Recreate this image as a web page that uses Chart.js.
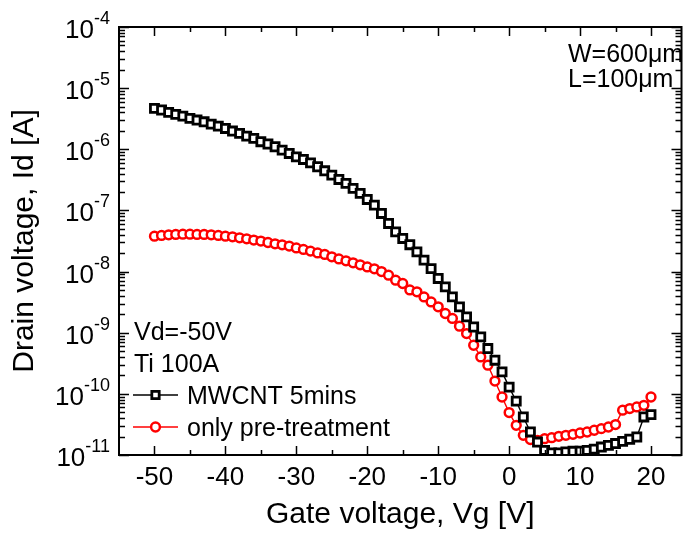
<!DOCTYPE html>
<html><head><meta charset="utf-8">
<script src="https://cdn.jsdelivr.net/npm/chart.js@4/dist/chart.umd.min.js"></script>
<style>html,body{margin:0;padding:0;background:#fff}#wrap{width:690px;height:547px}</style>
</head><body><div id="wrap"><canvas id="c" width="690" height="547"></canvas></div>
<script>
const gateVoltage = [-50,-49,-48,-47,-46,-45,-44,-43,-42,-41,-40,-39,-38,-37,-36,-35,-34,-33,-32,-31,
  -30,-29,-28,-27,-26,-25,-24,-23,-22,-21,-20,-19,-18,-17,-16,-15,-14,-13,-12,-11,
  -10,-9,-8,-7,-6,-5,-4,-3,-2,-1,0,1,2,3,4,5,6,7,8,9,10,11,12,13,14,15,16,17,18,19,20];
const idMWCNT = [4.67e-6,4.39e-6,4.01e-6,3.72e-6,3.49e-6,3.20e-6,3.01e-6,2.82e-6,2.58e-6,2.39e-6,
  2.19e-6,1.99e-6,1.82e-6,1.64e-6,1.51e-6,1.33e-6,1.22e-6,1.10e-6,9.70e-7,8.55e-7,
  7.53e-7,6.82e-7,6.01e-7,5.18e-7,4.45e-7,3.78e-7,3.21e-7,2.77e-7,2.29e-7,1.90e-7,
  1.51e-7,1.22e-7,8.91e-8,6.12e-8,4.47e-8,3.48e-8,2.75e-8,2.10e-8,1.54e-8,1.12e-8,
  7.71e-9,5.62e-9,3.85e-9,2.65e-9,1.82e-9,1.24e-9,8.53e-10,5.51e-10,3.55e-10,2.29e-10,
  1.29e-10,7.59e-11,4.19e-11,2.38e-11,1.63e-11,1.19e-11,1.08e-11,1.08e-11,1.12e-11,1.15e-11,
  1.16e-11,1.19e-11,1.25e-11,1.35e-11,1.44e-11,1.54e-11,1.67e-11,1.81e-11,1.97e-11,4.19e-11,
  4.58e-11];
const idPreTreatment = [3.79e-8,3.90e-8,3.99e-8,4.05e-8,4.09e-8,4.09e-8,4.05e-8,4.05e-8,3.99e-8,3.90e-8,
  3.79e-8,3.70e-8,3.56e-8,3.43e-8,3.27e-8,3.15e-8,2.99e-8,2.84e-8,2.74e-8,2.61e-8,
  2.44e-8,2.30e-8,2.16e-8,2.02e-8,1.91e-8,1.74e-8,1.61e-8,1.50e-8,1.39e-8,1.29e-8,
  1.19e-8,1.11e-8,1.00e-8,8.73e-9,7.24e-9,6.38e-9,5.01e-9,4.66e-9,3.85e-9,3.19e-9,
  2.65e-9,2.06e-9,1.71e-9,1.28e-9,9.68e-10,6.24e-10,4.02e-10,2.94e-10,1.62e-10,8.89e-11,
  4.94e-11,3.06e-11,2.10e-11,1.79e-11,1.74e-11,1.85e-11,1.92e-11,2.02e-11,2.10e-11,2.18e-11,
  2.29e-11,2.38e-11,2.54e-11,2.70e-11,2.87e-11,3.14e-11,5.40e-11,5.74e-11,6.11e-11,6.50e-11,
  8.89e-11];
const seriesLabels = ['MWCNT 5mins', 'only pre-treatment'];
const xTickValues = [-50, -40, -30, -20, -10, 0, 10, 20];
const xMinorTickValues = [-45, -35, -25, -15, -5, 5, 15];
const yTickExponents = [-4, -5, -6, -7, -8, -9, -10, -11];
const xAxisTitle = 'Gate voltage, Vg [V]';
const yAxisTitle = 'Drain voltage, Id [A]';
const noteTopRight = ['W=600\u03bcm', 'L=100\u03bcm'];
const noteLeft = ['Vd=-50V', 'Ti 100A'];

const FONT = "'Liberation Sans', Arial, Helvetica, sans-serif";
Chart.defaults.font.family = FONT;
Chart.defaults.color = '#000';

const decorPlugin = {
  id: 'decor',
  afterDatasetsDraw(chart) {
    const {ctx, chartArea: a, scales: {x, y}} = chart;
    ctx.save();
    ctx.strokeStyle = '#000';
    ctx.lineCap = 'butt';
    // ticks (inward on all four sides)
    ctx.lineWidth = 1.5;
    ctx.beginPath();
    xTickValues.forEach(v => {
      const px = Math.round(x.getPixelForValue(v)) + 0.5;
      ctx.moveTo(px, a.bottom); ctx.lineTo(px, a.bottom - 9);
      ctx.moveTo(px, a.top); ctx.lineTo(px, a.top + 9);
    });
    xMinorTickValues.forEach(v => {
      const px = Math.round(x.getPixelForValue(v)) + 0.5;
      ctx.moveTo(px, a.bottom); ctx.lineTo(px, a.bottom - 5);
      ctx.moveTo(px, a.top); ctx.lineTo(px, a.top + 5);
    });
    yTickExponents.forEach(e => {
      const py = Math.round(y.getPixelForValue(Math.pow(10, e))) + 0.5;
      ctx.moveTo(a.left, py); ctx.lineTo(a.left + 10, py);
      ctx.moveTo(a.right, py); ctx.lineTo(a.right - 10, py);
      if (e > -11) {
        for (let k = 2; k <= 9; k++) {
          const pm = Math.round(y.getPixelForValue(k * Math.pow(10, e - 1))) + 0.5;
          ctx.moveTo(a.left, pm); ctx.lineTo(a.left + 6, pm);
          ctx.moveTo(a.right, pm); ctx.lineTo(a.right - 6, pm);
        }
      }
    });
    ctx.stroke();
    // frame
    ctx.lineWidth = 2;
    ctx.strokeRect(a.left, a.top, a.right - a.left, a.bottom - a.top);

    // y tick labels 10^n
    ctx.fillStyle = '#000';
    ctx.textBaseline = 'alphabetic';
    ctx.textAlign = 'right';
    yTickExponents.forEach(e => {
      const py = y.getPixelForValue(Math.pow(10, e));
      const exp = String(e);
      ctx.font = '18px ' + FONT;
      const ew = ctx.measureText(exp).width;
      ctx.fillText(exp, 110, py - 3);
      ctx.font = '26px ' + FONT;
      ctx.fillText('10', 110 - ew, py + 11);
    });

    // notes
    ctx.textAlign = 'left';
    ctx.font = '25px ' + FONT;
    ctx.fillText(noteTopRight[0], 568, 62);
    ctx.fillText(noteTopRight[1], 568, 87);
    ctx.fillText(noteLeft[0], 134, 340);
    ctx.fillText(noteLeft[1], 134, 372);

    // legend
    const rows = [395, 427];
    chart.data.datasets.forEach((ds, i) => {
      const yy = rows[i];
      ctx.strokeStyle = ds.borderColor;
      ctx.lineWidth = ds.borderWidth;
      ctx.beginPath(); ctx.moveTo(133, yy); ctx.lineTo(178, yy); ctx.stroke();
      ctx.fillStyle = ds.pointBackgroundColor;
      ctx.strokeStyle = ds.pointBorderColor;
      ctx.lineWidth = ds.pointBorderWidth;
      Chart.helpers.drawPoint(ctx, {pointStyle: ds.pointStyle, radius: ds.legendRadius, borderWidth: ds.pointBorderWidth, rotation: 0}, 155.5, yy);
      ctx.fillStyle = '#000';
      ctx.font = '25px ' + FONT;
      ctx.fillText(ds.label, 187, yy + 8.5);
    });
    ctx.restore();
  }
};

new Chart(document.getElementById('c'), {
  type: 'line',
  data: {
    datasets: [
      {
        label: seriesLabels[0],
        data: gateVoltage.map((v, i) => ({x: v, y: idMWCNT[i]})),
        borderColor: '#000', borderWidth: 1.4,
        pointStyle: 'rect', pointRadius: 5.7, legendRadius: 5.2,
        pointBorderWidth: 2.8, pointBorderColor: '#000', pointBackgroundColor: '#fff',
        clip: 0, tension: 0
      },
      {
        label: seriesLabels[1],
        data: gateVoltage.map((v, i) => ({x: v, y: idPreTreatment[i]})),
        borderColor: '#f00', borderWidth: 1.4,
        pointStyle: 'circle', pointRadius: 4.4, legendRadius: 4.4,
        pointBorderWidth: 2.5, pointBorderColor: '#f00', pointBackgroundColor: '#fff',
        clip: 0, tension: 0
      }
    ]
  },
  options: {
    responsive: false, animation: false, devicePixelRatio: 1,
    layout: {padding: {top: 27, right: 2, left: 0, bottom: 0}},
    plugins: {legend: {display: false}, tooltip: {enabled: false}},
    scales: {
      x: {
        type: 'linear', min: -55, max: 24.3,
        afterBuildTicks: s => { s.ticks = xTickValues.map(v => ({value: v})); },
        afterFit: s => { s.height = 92; },
        grid: {display: false, drawTicks: false}, border: {display: false},
        ticks: {color: '#000', font: {size: 26}, padding: 7, maxRotation: 0, autoSkip: false},
        title: {display: true, text: xAxisTitle, color: '#000', font: {size: 30}, padding: {top: 0, bottom: 14}}
      },
      y: {
        type: 'logarithmic', min: 1e-11, max: 1e-4,
        afterFit: s => { s.width = 119; },
        grid: {display: false, drawTicks: false}, border: {display: false},
        ticks: {display: false},
        title: {display: true, text: yAxisTitle, color: '#000', font: {size: 30}, padding: {top: 7, bottom: 0}}
      }
    }
  },
  plugins: [decorPlugin]
});
</script>
</body></html>
